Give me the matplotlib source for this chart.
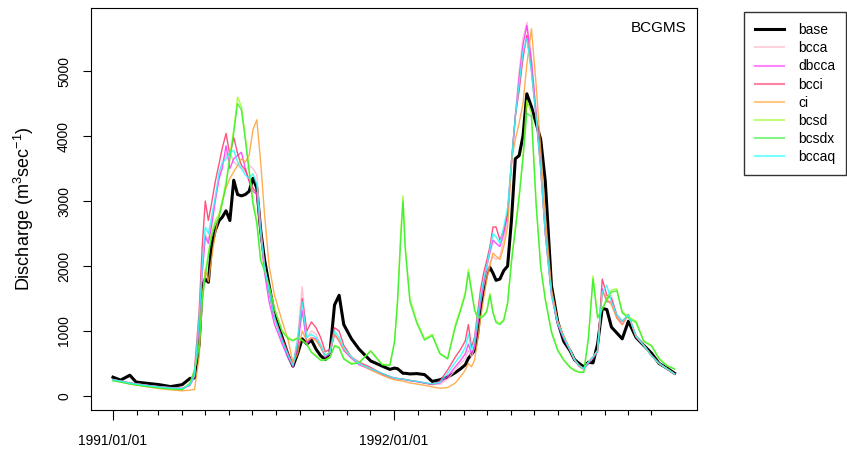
import numpy as np
import matplotlib
matplotlib.use("Agg")
import matplotlib.pyplot as plt
from matplotlib.lines import Line2D

plt.rcParams['font.family'] = ['Liberation Sans', 'DejaVu Sans']
plt.rcParams['mathtext.default'] = 'regular'

# days since 1991/01/01
day = [0, 10, 22, 30, 45, 60, 75, 90, 100, 106,
       112, 116, 120, 124, 128, 133, 138, 142, 147, 152,
       157, 162, 167, 172, 177, 182, 187, 192, 197, 203,
       210, 220, 228, 234, 240, 246, 252, 258, 264, 270,
       276, 282, 288, 294, 300, 310, 320, 335, 350, 360,
       366, 370, 374, 377, 380, 386, 395, 405, 415, 425,
       435, 445, 452, 458, 462, 466, 470, 474, 478, 482,
       486, 490, 494, 498, 503, 508, 513, 518, 523, 528,
       533, 538, 544, 550, 556, 562, 570, 578, 586, 594,
       600, 606, 612, 618, 624, 630, 636, 642, 648, 655,
       662, 670, 680, 690, 700, 710, 720, 730]

base = [290, 245, 320, 215, 195, 175, 145, 175, 270, 280,
        800, 1700, 1800, 1750, 2300, 2550, 2700, 2750, 2850, 2700,
        3320, 3100, 3080, 3100, 3150, 3350, 3200, 2550, 2100, 1700,
        1250, 900, 620, 460, 650, 880, 800, 860, 720, 620,
        560, 660, 1400, 1550, 1100, 880, 720, 540, 460, 410,
        430, 420, 380, 350, 350, 340, 345, 330, 225, 250,
        290, 360, 420, 480, 580, 640, 700, 950, 1380, 1650,
        1890, 1980, 1890, 1780, 1800, 1930, 2000, 2700, 3650, 3700,
        4000, 4650, 4450, 4200, 3950, 3300, 1700, 1150, 840, 700,
        560, 500, 450, 520, 510, 800, 1350, 1330, 1060, 970,
        880, 1150, 900, 780, 660, 500, 430, 350]

bcca = [250, 230, 205, 190, 165, 145, 130, 120, 170, 320,
        1100, 1900, 2500, 2400, 2700, 3050, 3400, 3600, 3700, 3750,
        3600, 3550, 3500, 3450, 3550, 3500, 3400, 2600, 2000, 1600,
        1200, 850, 620, 480, 900, 1680, 900, 1000, 950, 800,
        620, 680, 950, 850, 720, 600, 500, 420, 350, 300,
        275, 270, 265, 260, 255, 240, 225, 205, 185, 180,
        260, 400, 500, 580, 700, 600, 750, 1100, 1450, 1700,
        1900, 2050, 2150, 2100, 2150, 2400, 2700, 3500, 4300, 5000,
        5500, 5750, 5200, 4400, 3600, 2600, 1600, 1150, 920, 720,
        560, 470, 420, 520, 600, 700, 1600, 1500, 1550, 1200,
        1150, 1250, 920, 780, 620, 500, 420, 340]

dbcca = [250, 230, 200, 185, 160, 140, 125, 115, 160, 300,
         1100, 1900, 2450, 2350, 2600, 3000, 3350, 3500, 3850, 3500,
         3650, 3700, 3750, 3500, 3300, 3150, 3100, 2500, 1900, 1450,
         1100, 800, 580, 450, 750, 1320, 800, 900, 880, 750,
         600, 650, 950, 850, 700, 580, 480, 410, 340, 290,
         270, 265, 260, 255, 250, 235, 220, 200, 180, 200,
         300, 450, 550, 650, 800, 650, 750, 1100, 1450, 1750,
         2000, 2200, 2400, 2350, 2300, 2500, 2800, 3600, 4300, 4900,
         5400, 5700, 5150, 4350, 3550, 2500, 1550, 1100, 880, 700,
         550, 460, 410, 500, 580, 680, 1650, 1450, 1450, 1200,
         1100, 1250, 920, 780, 620, 500, 420, 340]

bcci = [250, 230, 200, 185, 160, 140, 125, 115, 180, 400,
        1300, 2300, 3000, 2700, 2950, 3300, 3580, 3810, 4040, 3700,
        3980, 3730, 3550, 3480, 3320, 3200, 3120, 2500, 1990, 1600,
        1220, 890, 650, 480, 800, 1500, 1000, 1140, 1050, 900,
        680, 720, 1050, 1000, 780, 600, 520, 440, 340, 300,
        275, 270, 265, 260, 255, 240, 225, 200, 175, 230,
        400, 600, 720, 850, 1100, 750, 900, 1280, 1650, 1900,
        2090, 2300, 2600, 2600, 2400, 2550, 2810, 3600, 4300, 4700,
        5200, 5550, 5000, 4300, 3500, 2500, 1600, 1150, 920, 720,
        560, 460, 420, 520, 600, 700, 1800, 1550, 1500, 1250,
        1150, 1250, 900, 780, 620, 500, 420, 340]

ci = [240, 215, 185, 170, 140, 115, 95, 80, 90, 100,
      600, 1500, 1950, 1760, 2100, 2500, 2800, 3000, 3200, 3350,
      3450, 3550, 3650, 3600, 3700, 4100, 4250, 3600, 2800, 2000,
      1550, 1150, 850, 500, 650, 1000, 850, 900, 850, 750,
      620, 680, 950, 850, 720, 600, 500, 400, 320, 270,
      250, 240, 235, 230, 220, 200, 185, 165, 140, 120,
      130, 200, 300, 400, 500, 450, 550, 850, 1200, 1500,
      1800, 2000, 2200, 2150, 2100, 2300, 2600, 3600, 3950, 4200,
      4500, 5100, 5650, 4800, 3800, 2800, 1650, 1150, 920, 720,
      560, 470, 420, 520, 600, 700, 1600, 1500, 1400, 1200,
      1100, 1250, 920, 780, 620, 500, 420, 340]

bcsd = [240, 220, 190, 175, 150, 130, 110, 100, 200, 400,
        800, 1500, 1900, 2200, 2500, 2700, 2800, 3000, 3300, 3700,
        4100, 4600, 4450, 4000, 3500, 3000, 2700, 2100, 1950, 1700,
        1350, 1000, 900, 860, 900, 860, 800, 680, 620, 560,
        560, 600, 780, 750, 580, 500, 520, 700, 490, 480,
        850, 1500, 2500, 3080, 2300, 1500, 1150, 880, 950, 660,
        580, 1100, 1350, 1600, 1950, 1650, 1350, 1220, 1220, 1250,
        1320, 1580, 1300, 1150, 1120, 1180, 1450, 2100, 2600, 3100,
        3700, 4550, 4350, 3000, 2000, 1500, 1000, 720, 560, 450,
        400, 370, 370, 900, 1850, 1220, 1350, 1500, 1630, 1650,
        1300, 1220, 1150, 850, 780, 580, 470, 420]

bcsdx = [235, 215, 185, 170, 145, 125, 108, 98, 190, 380,
         750, 1450, 1850, 2150, 2450, 2650, 2750, 2950, 3250, 3650,
         4050, 4500, 4400, 3950, 3450, 2950, 2650, 2080, 1930, 1680,
         1330, 990, 880, 850, 890, 850, 790, 670, 610, 550,
         550, 590, 770, 740, 570, 490, 510, 690, 480, 470,
         830, 1450, 2400, 3000, 2250, 1450, 1120, 860, 930, 650,
         570, 1060, 1320, 1560, 1900, 1610, 1320, 1200, 1200, 1230,
         1300, 1550, 1280, 1130, 1100, 1160, 1420, 2050, 2550, 3050,
         3650, 4350, 4300, 2950, 1980, 1480, 980, 700, 550, 440,
         390, 365, 365, 880, 1800, 1200, 1330, 1480, 1600, 1620,
         1280, 1200, 1130, 840, 770, 570, 465, 415]

bccaq = [250, 230, 200, 185, 160, 140, 125, 115, 170, 320,
         1200, 2000, 2600, 2500, 2750, 3050, 3450, 3580, 3650, 3750,
         3780, 3600, 3500, 3400, 3350, 3420, 3250, 2500, 2000, 1600,
         1200, 850, 620, 470, 850, 1450, 900, 950, 900, 780,
         620, 670, 1000, 900, 740, 600, 500, 420, 350, 300,
         275, 270, 265, 260, 255, 240, 225, 205, 185, 210,
         350, 520, 620, 750, 950, 700, 850, 1200, 1550, 1800,
         2000, 2250, 2500, 2450, 2350, 2600, 2900, 3600, 4300, 4800,
         5300, 5500, 5000, 4300, 3500, 2500, 1550, 1120, 900, 710,
         560, 470, 420, 520, 600, 700, 1600, 1700, 1450, 1250,
         1150, 1250, 920, 780, 620, 500, 420, 340]

names = ["base", "bcca", "dbcca", "bcci", "ci", "bcsd", "bcsdx", "bccaq"]
values = [base, bcca, dbcca, bcci, ci, bcsd, bcsdx, bccaq]
colors = ["black", "#ffb6c8", "#ff33ff", "#ff3366", "#ffa033",
          "#99ff22", "#33ee33", "#22ffff"]

fig = plt.figure(figsize=(8.47, 4.54), dpi=100)
ax = fig.add_axes([90.5 / 847, 44 / 454, 606.5 / 847, 402 / 454])

for name, q, col in zip(names, values, colors):
    if name == "base":
        ax.plot(day, q, color=col, lw=2.2, zorder=2)
    else:
        ax.plot(day, q, color=col, lw=1.0, alpha=0.85, zorder=3)

ax.set_xlim(-29.2, 759.2)
ax.set_ylim(-215, 5970)

# month ticks
start = np.datetime64('1991-01-01')
months = np.arange('1991-01', '1993-01', dtype='datetime64[M]')
mpos = (months.astype('datetime64[D]') - start).astype(int)
ypos = [mpos[0], mpos[12]]
ax.set_xticks(ypos)
ax.set_xticklabels(["1991/01/01", "1992/01/01"])
ax.set_xticks(mpos, minor=True)
ax.tick_params(axis='x', which='major', length=7.5, width=0.8, pad=10, labelsize=10)
ax.tick_params(axis='x', which='minor', length=3.5, width=0.8)

ax.set_yticks([0, 1000, 2000, 3000, 4000, 5000])
ax.set_yticklabels(["0", "1000", "2000", "3000", "4000", "5000"],
                   rotation=90, va='center')
ax.tick_params(axis='y', length=6, width=0.8, pad=8, labelsize=10)

for s in ax.spines.values():
    s.set_linewidth(0.8)

fig.text(24 / 847, 1 - 209 / 454, "Discharge (m$^{3}$sec$^{-1}$)",
         rotation=90, ha='center', va='center', fontsize=13)
fig.text(687 / 847, 1 - 28 / 454, "BCGMS", ha='right', va='center', fontsize=11)

handles = [Line2D([], [], color=c, lw=2.2 if n == "base" else 1.5,
                  alpha=1 if n == "base" else 0.6) for n, c in zip(names, colors)]
fig.legend(handles, names, loc='upper left',
           bbox_to_anchor=(744 / 847, 1 - 12 / 454), frameon=True,
           fancybox=False, edgecolor='#333333', framealpha=1,
           fontsize=10, borderpad=0.8, labelspacing=0.3,
           handlelength=2.1, handletextpad=1.0, borderaxespad=0)

fig.savefig("out.png", dpi=100)
